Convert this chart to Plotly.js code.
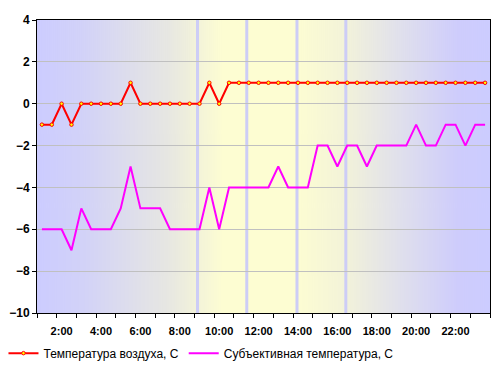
<!DOCTYPE html>
<html>
<head>
<meta charset="utf-8">
<script src="https://cdn.plot.ly/plotly-3.0.1.min.js"></script>
<style>html,body{margin:0;padding:0;background:#fff;}#chart{width:502px;height:369px;}</style>
</head>
<body>
<div id="chart"></div>
<script>
// Time of each reading, hours (half-hour steps, 1:00 .. 23:30)
var hours = [1, 1.5, 2, 2.5, 3, 3.5, 4, 4.5, 5, 5.5, 6, 6.5, 7, 7.5, 8, 8.5,
             9, 9.5, 10, 10.5, 11, 11.5, 12, 12.5, 13, 13.5, 14, 14.5, 15, 15.5,
             16, 16.5, 17, 17.5, 18, 18.5, 19, 19.5, 20, 20.5, 21, 21.5, 22, 22.5, 23, 23.5];
var airTemp = [-1, -1, 0, -1, 0, 0, 0, 0, 0, 1, 0, 0, 0, 0, 0, 0,
               0, 1, 0, 1, 1, 1, 1, 1, 1, 1, 1, 1, 1, 1,
               1, 1, 1, 1, 1, 1, 1, 1, 1, 1, 1, 1, 1, 1, 1, 1];
var feltTemp = [-6, -6, -6, -7, -5, -6, -6, -6, -5, -3, -5, -5, -5, -6, -6, -6,
                -6, -4, -6, -4, -4, -4, -4, -4, -3, -4, -4, -4, -2, -2,
                -3, -2, -2, -3, -2, -2, -2, -2, -1, -2, -2, -1, -1, -2, -1, -1];
var labelHours = [2, 4, 6, 8, 10, 12, 14, 16, 18, 20, 22];
var labelTexts = ['2:00', '4:00', '6:00', '8:00', '10:00', '12:00', '14:00', '16:00', '18:00', '20:00', '22:00'];
var markerHours = [8.9, 11.4, 13.95, 16.43];
var seriesNames = ['Температура воздуха, С', 'Субъективная температура, С'];

// category boundaries (every two readings) for the tick marks
var step = hours[1] - hours[0];
var boundaries = [];
for (var i = 0; i <= hours.length; i += 2) boundaries.push(hours[0] - step / 2 + i * step);
var xRange = [hours[0] - step / 2, hours[hours.length - 1] + step / 2];

// background gradient
var cv = document.createElement('canvas');
cv.width = 453; cv.height = 4;
var ctx = cv.getContext('2d');
var g = ctx.createLinearGradient(0, 0, 453, 0);
g.addColorStop(0.0, '#ccccff');
g.addColorStop(0.1, '#d2d2f8');
g.addColorStop(0.29, '#e7e7e2');
g.addColorStop(0.41, '#fdfdd2');
g.addColorStop(0.57, '#fdfdd2');
g.addColorStop(0.67, '#f4f4d8');
g.addColorStop(0.8, '#e0e0ec');
g.addColorStop(0.93, '#ceccfc');
g.addColorStop(1.0, '#ccccff');
ctx.fillStyle = g;
ctx.fillRect(0, 0, 453, 4);
var bgUrl = cv.toDataURL();

var shapes = markerHours.map(function (h) {
  return {type: 'line', xref: 'x', yref: 'paper', x0: h, x1: h, y0: 0, y1: 1,
          line: {color: '#cdcdf6', width: 3}, layer: 'below'};
});

var traces = [
  {x: hours, y: airTemp, name: seriesNames[0], type: 'scatter', mode: 'lines+markers',
   line: {color: '#ff0000', width: 2},
   marker: {symbol: 'circle', size: 3.5, color: '#ffff00', line: {color: '#ff0000', width: 1}}},
  {x: hours, y: feltTemp, name: seriesNames[1], type: 'scatter', mode: 'lines',
   line: {color: '#ff00ff', width: 2}}
];

var layout = {
  width: 502, height: 369,
  margin: {l: 37, r: 12, t: 20, b: 56, autoexpand: false},
  paper_bgcolor: '#ffffff',
  plot_bgcolor: 'rgba(0,0,0,0)',
  font: {family: 'Arial, Liberation Sans, sans-serif', size: 12, color: '#000'},
  showlegend: true,
  legend: {orientation: 'h', x: -0.074, xanchor: 'left', y: -0.137, yanchor: 'middle',
           font: {size: 12, color: '#000'}, bgcolor: 'rgba(0,0,0,0)', itemwidth: 30,
           tracegroupgap: 0},
  xaxis: {range: xRange, tickmode: 'array', tickvals: labelHours, ticktext: labelTexts,
          ticks: 'outside', ticklen: 8, tickcolor: 'rgba(0,0,0,0)',
          tickfont: {size: 11, weight: 'bold', color: '#000'},
          showgrid: false, zeroline: false, showline: true, linecolor: '#000', linewidth: 1, mirror: true,
          minor: {tickmode: 'array', tickvals: boundaries, ticks: 'outside', ticklen: 4,
                  tickcolor: '#000', tickwidth: 1, showgrid: false}},
  yaxis: {range: [-10, 4], tickmode: 'linear', tick0: -10, dtick: 2,
          ticks: 'outside', ticklen: 4, tickcolor: '#000',
          tickfont: {size: 12, weight: 'bold', color: '#000'},
          showgrid: true, gridcolor: '#c0c0c0', gridwidth: 1, zeroline: false,
          showline: true, linecolor: '#000', linewidth: 1, mirror: true},
  shapes: shapes,
  images: [{source: bgUrl, xref: 'paper', yref: 'paper', x: 0, y: 1, sizex: 1, sizey: 1,
            xanchor: 'left', yanchor: 'top', sizing: 'stretch', layer: 'below'}]
};

Plotly.newPlot('chart', traces, layout, {displayModeBar: false, staticPlot: true});
</script>
</body>
</html>
